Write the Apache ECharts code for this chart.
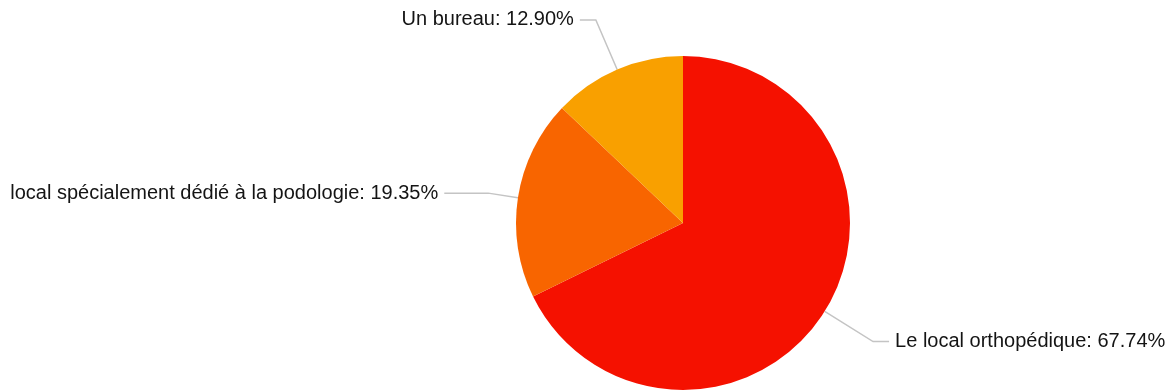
<!DOCTYPE html>
<html>
<head>
<meta charset="utf-8">
<script src="https://cdn.jsdelivr.net/npm/echarts@6/dist/echarts.min.js"></script>
<style>
  html, body { margin: 0; padding: 0; background: #ffffff; }
  #chart { width: 1174px; height: 392px; }
</style>
</head>
<body>
<div id="chart"></div>
<script>
// Types de local utilisés (en %)
const categories = ['Le local orthopédique', 'local spécialement dédié à la podologie', 'Un bureau'];
const shares = [67.74, 19.35, 12.90];
const sliceColors = ['#f51100', '#f86500', '#f9a000'];
const leaderLengths = [[57, 16], [30, 44], [54, 16]];

const chart = echarts.init(document.getElementById('chart'), null, { renderer: 'canvas' });

chart.setOption({
  animation: false,
  series: [{
    type: 'pie',
    center: [683, 223],
    radius: 167,
    startAngle: 90,
    clockwise: true,
    avoidLabelOverlap: false,
    label: {
      show: true,
      position: 'outside',
      fontFamily: 'Liberation Sans, Arial, Helvetica, sans-serif',
      fontSize: 20,
      color: '#141414',
      distanceToLabelLine: 6,
      formatter: p => p.name + ': ' + shares[p.dataIndex].toFixed(2) + '%'
    },
    labelLine: {
      show: true,
      smooth: false,
      lineStyle: { color: '#c4c4c4', width: 1.5 }
    },
    itemStyle: { borderWidth: 0 },
    emphasis: { disabled: true },
    data: categories.map((name, i) => ({
      name,
      value: shares[i],
      itemStyle: { color: sliceColors[i] },
      labelLine: { length: leaderLengths[i][0], length2: leaderLengths[i][1] }
    }))
  }]
});
</script>
</body>
</html>
